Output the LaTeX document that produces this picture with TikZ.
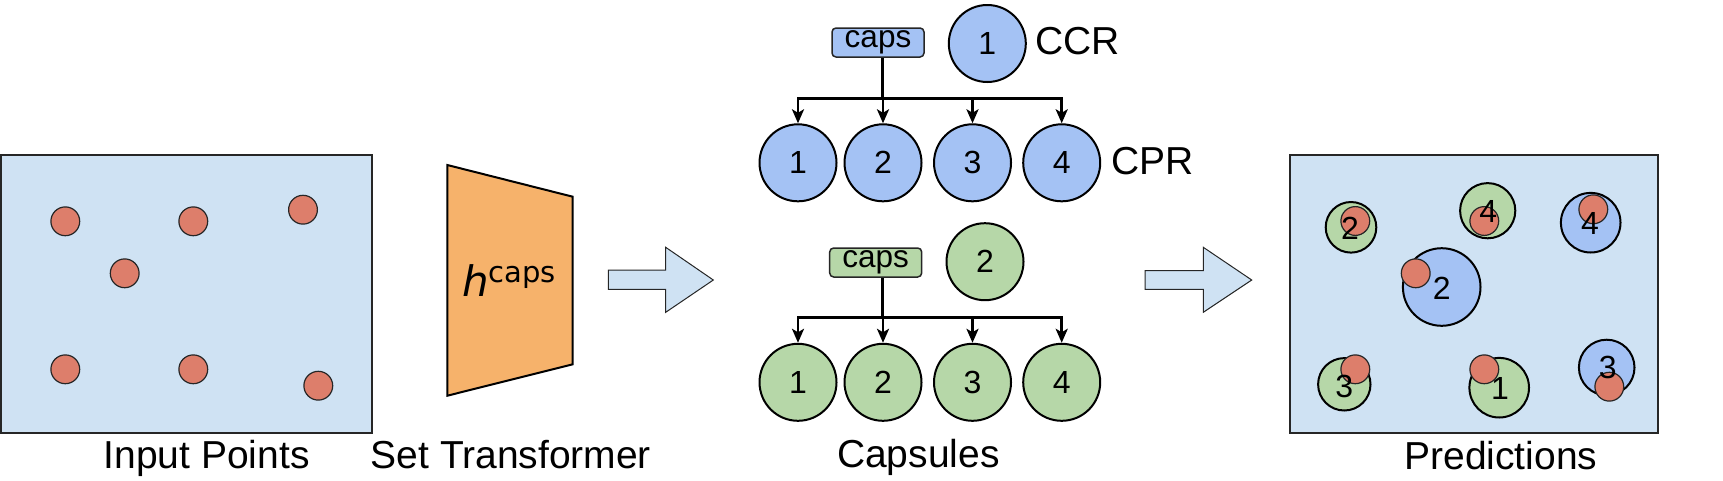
\documentclass[tikz,border=0pt]{standalone}
\usepackage{fontspec}
\setmainfont{Liberation Sans}
\newfontfamily\dejavu{DejaVu Sans}
\usetikzlibrary{arrows.meta}
\definecolor{bgblue}{HTML}{CFE2F3}
\definecolor{dotred}{HTML}{DD7E6B}
\definecolor{trorange}{HTML}{F6B26B}
\definecolor{capblue}{HTML}{A4C2F4}
\definecolor{capgreen}{HTML}{B6D7A8}
\begin{document}
\begin{tikzpicture}[x=1pt,y=-1pt,
  panel/.style={draw=black!85,line width=1.5pt,fill=bgblue},
  dot/.style={circle,draw=black!85,line width=1.2pt,fill=dotred,minimum size=28.8pt,inner sep=0pt},
  capc/.style={circle,draw=black,line width=2pt,minimum size=77pt,inner sep=0pt,font=\fontsize{32}{32}\selectfont},
  predc/.style={circle,draw=black,line width=2pt,inner sep=0pt},
  digit/.style={inner sep=0pt,font=\fontsize{32}{32}\selectfont},
  capsbox/.style={draw=black!85,line width=1.5pt,rounded corners=4pt,minimum width=92pt,minimum height=29pt,inner sep=0pt,font=\fontsize{31.5}{31.5}\selectfont},
  lbl/.style={inner sep=0pt,font=\fontsize{39}{39}\selectfont},
  tree/.style={line width=2.7pt,draw=black},
  treearrow/.style={tree,-{Stealth[length=14pt,width=12pt,inset=3.5pt]}},
  blockarrow/.style={draw=black!85,line width=1pt,fill=bgblue}
]
\useasboundingbox (0,0) rectangle (1723,480);

% ---------- Input points ----------
\draw[panel] (1,155) rectangle (372,433);
\node[dot] (i1) at (65.3,221.3) {};
\node[dot] (i2) at (193.3,221.3) {};
\node[dot] (i3) at (303,209.7) {};
\node[dot] (i4) at (124.7,273.3) {};
\node[dot] (i5) at (65.3,369.3) {};
\node[dot] (i6) at (193.3,369.3) {};
\node[dot] (i7) at (318.3,385.7) {};
\node[lbl,anchor=base] (tin) at (206.7,468) {Input Points};

% ---------- Set transformer ----------
\draw[draw=black,line width=2pt,fill=trorange,line join=miter]
  (447.3,165) -- (572.7,196.7) -- (572.7,364.3) -- (447.3,395.7) -- cycle;
\node[inner sep=0pt] (h) at (509,281)
  {\dejavu\fontsize{42}{42}\selectfont\itshape h\upshape\raisebox{14pt}{\fontsize{29}{29}\selectfont caps}};
\node[lbl,anchor=base] (tst) at (510.8,468) {Set Transformer};

% ---------- block arrow 1 ----------
\draw[blockarrow] (608.3,270) -- (665.7,270) -- (665.7,247.3) -- (713.3,280)
  -- (665.7,312.3) -- (665.7,289.3) -- (608.3,289.3) -- cycle;

% ---------- Capsule 1 ----------
\node[capsbox,fill=capblue] (capsA) at (878,42.5) {caps};
\node[capc,fill=capblue] (ccrA) at (987.3,43.5) {1};
\node[lbl,anchor=base west] (tccr) at (1035,54) {CCR};
\foreach \i/\x in {1/798,2/883,3/972.5,4/1061.7}
  \node[capc,fill=capblue] (pA\i) at (\x,162.8) {\i};
\node[lbl,anchor=base west] (tcpr) at (1111,174) {CPR};
\coordinate (busA) at (882.3,98.3);
\draw[tree] (capsA.south -| busA) -- (busA);
\draw[tree,line cap=rect] (pA1.north |- busA) -- (pA4.north |- busA);
\foreach \i in {1,2,3,4}
  \draw[treearrow] (pA\i.north |- busA) -- (pA\i.north);

% ---------- Capsule 2 ----------
\node[capsbox,fill=capgreen] (capsB) at (875.7,262.5) {caps};
\node[capc,fill=capgreen] (ccrB) at (985,261.7) {2};
\foreach \i/\x in {1/798,2/883,3/972.5,4/1061.7}
  \node[capc,fill=capgreen] (pB\i) at (\x,382.3) {\i};
\coordinate (busB) at (882.3,317.3);
\draw[tree] (capsB.south -| busB) -- (busB);
\draw[tree,line cap=rect] (pB1.north |- busB) -- (pB4.north |- busB);
\foreach \i in {1,2,3,4}
  \draw[treearrow] (pB\i.north |- busB) -- (pB\i.north);
\node[lbl,anchor=base] (tcaps) at (918.3,467.7) {Capsules};

% ---------- block arrow 2 ----------
\draw[blockarrow] (1145,270.5) -- (1203.3,270.5) -- (1203.3,247.3) -- (1251.7,280)
  -- (1203.3,312.3) -- (1203.3,289.3) -- (1145,289.3) -- cycle;

% ---------- Predictions ----------
\draw[panel] (1290,155) rectangle (1658,433);
% capsule circles
\node[predc,fill=capgreen,minimum size=50.6pt] (q1) at (1351,227.3) {};
\node[predc,fill=capgreen,minimum size=55.2pt] (q2) at (1487.7,210.7) {};
\node[predc,fill=capblue,minimum size=59.6pt] (q3) at (1590.7,222.7) {};
\node[predc,fill=capblue,minimum size=77.6pt] (q4) at (1441.7,287) {};
\node[predc,fill=capgreen,minimum size=52.4pt] (q5) at (1344.3,384.3) {};
\node[predc,fill=capgreen,minimum size=59.6pt] (q6) at (1499.2,387.7) {};
\node[predc,fill=capblue,minimum size=55.6pt] (q7) at (1606.7,367.5) {};
% points
\node[dot] (r1) at (1355.3,221) {};
\node[dot] (r2) at (1484.3,221) {};
\node[dot] (r3) at (1593.3,209.3) {};
\node[dot] (r4) at (1415.7,273.3) {};
\node[dot] (r5) at (1355.3,369.3) {};
\node[dot] (r6) at (1484.3,369.3) {};
\node[dot] (r7) at (1609.3,386.7) {};
% digits
\node[digit] (d1) at (1350,228.3) {2};
\node[digit] (d2) at (1488.3,211.7) {4};
\node[digit] (d3) at (1590,223.3) {4};
\node[digit] (d4) at (1441.7,288.3) {2};
\node[digit] (d5) at (1344.3,386.7) {3};
\node[digit] (d6) at (1500,388.3) {1};
\node[digit] (d7) at (1607.7,367.7) {3};
\node[lbl,anchor=base] (tpred) at (1500.8,469) {Predictions};
\end{tikzpicture}
\end{document}
